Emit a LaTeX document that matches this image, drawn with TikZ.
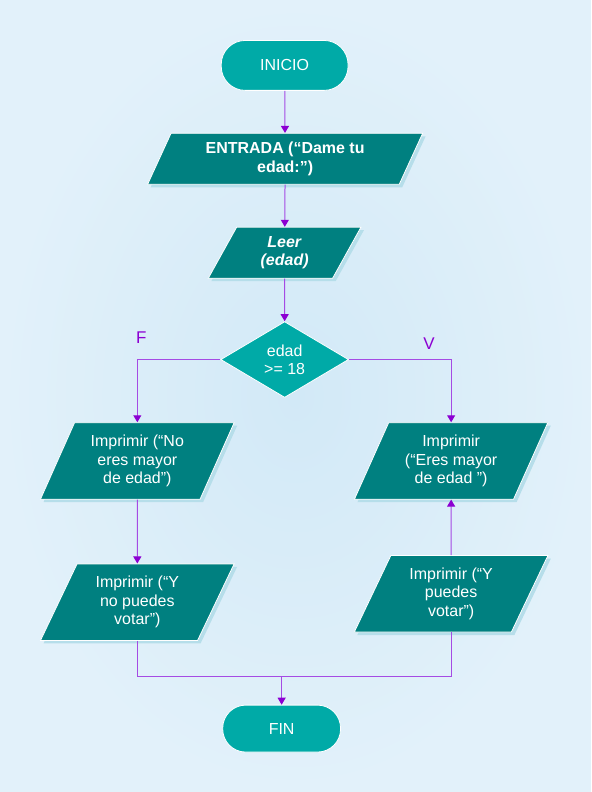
\documentclass[tikz,border=0pt]{standalone}
\usepackage{fontspec}
\setmainfont{Liberation Sans}
\usetikzlibrary{shapes.geometric,arrows.meta,shadows}
\definecolor{fondo}{RGB}{210,233,247}
\definecolor{fondoborde}{RGB}{226,241,250}
\definecolor{turquesa}{RGB}{0,170,167}
\definecolor{petroleo}{RGB}{0,128,128}
\definecolor{sombra}{RGB}{182,222,234}
\definecolor{linea}{RGB}{165,75,228}
\definecolor{punta}{RGB}{140,0,210}

\begin{document}
\begin{tikzpicture}[x=1pt,y=-1pt,
every node/.style={
align=center,
text=white,
font=\fontsize{16}{18.5}\selectfont,
},
term/.style={
rectangle,
rounded corners=24pt,
fill=turquesa,
draw=white,
line width=0.8pt,
minimum width=127pt,
minimum height=50pt,
},
decision/.style={
diamond,
fill=turquesa,
draw=white,
line width=0.8pt,
inner sep=0pt,
minimum width=128pt,
minimum height=76pt,
},
datos/.style={
trapezium,
trapezium left angle=64,
trapezium right angle=116,
trapezium stretches=true,
fill=petroleo,
draw=white,
line width=0.8pt,
inner sep=0pt,
drop shadow={shadow xshift=3pt,shadow yshift=-3pt,fill=sombra,opacity=1},
},
flecha/.style={
draw=linea,
line width=1pt,
-{Triangle[width=8pt,length=7pt,color=punta]},
},
rama/.style={
text=punta,
font=\fontsize{17}{17}\selectfont,
}]

%fondo
\shade[inner color=fondo,outer color=fondoborde,draw=fondoborde,line width=1pt](0,0)rectangle(591,792);

%inicio y entrada
\node[term](inicio)at(284.5,65){INICIO};
\node[datos,minimum width=276pt,minimum height=51pt](entrada)at(285,158.5){\textbf{ENTRADA (“Dame tu}\\\textbf{edad:”)}};
\node[datos,trapezium left angle=66.7,trapezium right angle=113.3,minimum width=153pt,minimum height=51pt](leer)at(284.5,252.5){\textbf{\textit{Leer}}\\\textbf{\textit{(edad)}}};

%condicion
\node[decision](cond)at(284.5,359.5){edad\\>= 18};
\node[rama](falso)at(141,338){F};
\node[rama](verdad)at(429,344){V};

%salidas
\node[datos,minimum width=194pt,minimum height=76.6pt](no1)at(137,461){Imprimir (“No\\eres mayor\\de edad”)};
\node[datos,minimum width=194pt,minimum height=76.6pt](no2)at(137,602.4){Imprimir (“Y\\no puedes\\votar”)};
\node[datos,minimum width=194pt,minimum height=76.6pt](si1)at(451.2,461){Imprimir\\(“Eres mayor\\de edad ”)};
\node[datos,minimum width=194pt,minimum height=76.6pt](si2)at(451.2,594){Imprimir (“Y\\puedes\\votar”)};

%fin
\node[term,rounded corners=23pt,minimum width=118pt,minimum height=47pt](fin)at(281.5,729){FIN};
\coordinate(junta)at(281.5,677);

%conectores
\draw[flecha](inicio)--(entrada);
\draw[flecha](entrada)--(leer);
\draw[flecha](leer)--(cond);
\draw[flecha](cond.west)-|(no1.north);
\draw[flecha](cond.east)-|(si1.north);
\draw[flecha](no1)--(no2);
\draw[flecha](si2)--(si1);
\draw[draw=linea,line width=1pt](no2.south)|-(junta);
\draw[draw=linea,line width=1pt](si2.south)|-(junta);
\draw[flecha](junta)--(fin);
\end{tikzpicture}
\end{document}
